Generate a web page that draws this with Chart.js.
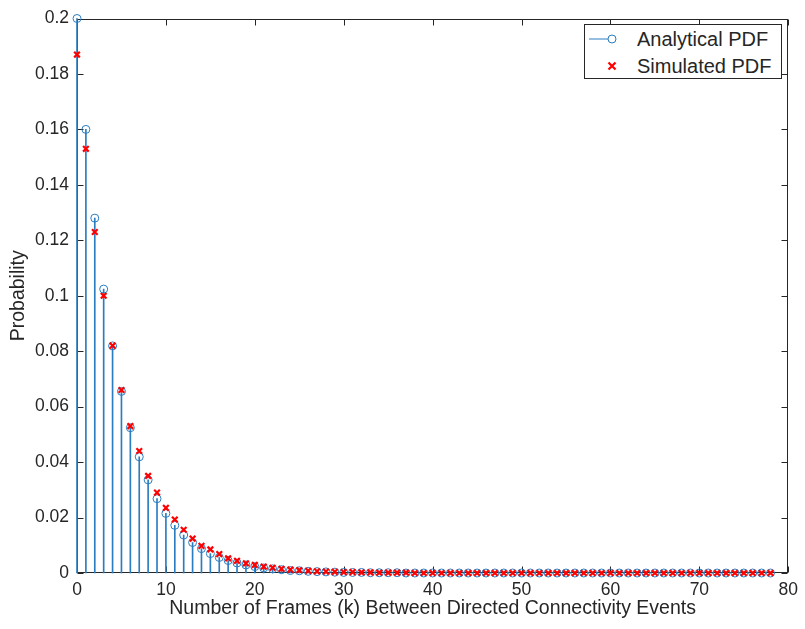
<!DOCTYPE html>
<html>
<head>
<meta charset="utf-8">
<script src="https://cdn.jsdelivr.net/npm/chart.js@4.4.1/dist/chart.umd.min.js"></script>
<style>
    body { margin: 0; background: #ffffff; }
    #wrap { position: relative; width: 805px; height: 629px; }
    #legend {
        position: absolute; left: 584px; top: 24px; width: 198px; height: 55px;
        box-sizing: border-box; border: 1px solid #262626; background: #ffffff;
        font-family: 'Liberation Sans', Arial, sans-serif; font-size: 20px; color: #262626;
    }
    #legend .row { position: absolute; left: 0; width: 100%; height: 24px; line-height: 24px; }
    #legend svg { position: absolute; left: 0; top: 0; }
    #legend span { position: absolute; left: 52px; top: 0; white-space: nowrap; }
</style>
</head>
<body>
<div id="wrap">
    <canvas id="stemChart" width="805" height="629"></canvas>
    <div id="legend">
        <div class="row" style="top:2px">
            <svg width="50" height="24"><line x1="4" y1="12" x2="23" y2="12" stroke="#2a7dc0" stroke-width="1"/><circle cx="27" cy="12" r="4" fill="none" stroke="#2a7dc0" stroke-width="1"/></svg>
            <span>Analytical PDF</span>
        </div>
        <div class="row" style="top:29px">
            <svg width="50" height="24"><path d="M23.5 8.5 L30.5 15.5 M30.5 8.5 L23.5 15.5" stroke="#ff0000" stroke-width="2.2"/></svg>
            <span>Simulated PDF</span>
        </div>
    </div>
</div>
<script>
// Stem plot: analytical vs simulated PDF of frames between connectivity events

const frames = [0, 1, 2, 3, 4, 5, 6, 7, 8, 9, 10, 11, 12, 13, 14, 15, 16, 17, 18, 19,
    20, 21, 22, 23, 24, 25, 26, 27, 28, 29, 30, 31, 32, 33, 34, 35, 36, 37, 38, 39,
    40, 41, 42, 43, 44, 45, 46, 47, 48, 49, 50, 51, 52, 53, 54, 55, 56, 57, 58, 59,
    60, 61, 62, 63, 64, 65, 66, 67, 68, 69, 70, 71, 72, 73, 74, 75, 76, 77, 78];

const analyticalPdf = [0.2, 0.16, 0.128, 0.1024, 0.0819, 0.0655, 0.0524, 0.0419, 0.0336, 0.0268,
    0.0215, 0.0172, 0.0137, 0.0110, 0.0088, 0.0070, 0.0056, 0.0045, 0.0036, 0.0029,
    0.0023, 0.0018, 0.0015, 0.0012, 0.0009, 0.0008, 0.0006, 0.0005, 0.0004, 0.0003,
    0.0002, 0.0002, 0.0002, 0.0001, 0.0001, 0.0001, 0.0001, 0, 0, 0,
    0, 0, 0, 0, 0, 0, 0, 0, 0, 0,
    0, 0, 0, 0, 0, 0, 0, 0, 0, 0,
    0, 0, 0, 0, 0, 0, 0, 0, 0, 0,
    0, 0, 0, 0, 0, 0, 0, 0, 0];

const simulatedPdf = [0.187, 0.153, 0.123, 0.100, 0.082, 0.066, 0.053, 0.044, 0.035, 0.029,
    0.0235, 0.0193, 0.0156, 0.0124, 0.0098, 0.0085, 0.0068, 0.0053, 0.0044, 0.0035,
    0.0029, 0.0023, 0.0019, 0.0015, 0.0012, 0.0010, 0.0008, 0.0006, 0.0005, 0.0004,
    0.0003, 0.0003, 0.0002, 0.0002, 0.0001, 0.0001, 0.0001, 0.0001, 0, 0,
    0, 0, 0, 0, 0, 0, 0, 0, 0, 0,
    0, 0, 0, 0, 0, 0, 0, 0, 0, 0,
    0, 0, 0, 0, 0, 0, 0, 0, 0, 0,
    0, 0, 0, 0, 0, 0, 0, 0, 0];

const xTicks = [0, 10, 20, 30, 40, 50, 60, 70, 80];
const yTicks = [0, 0.02, 0.04, 0.06, 0.08, 0.1, 0.12, 0.14, 0.16, 0.18, 0.2];

const AXIS_COLOR = '#262626';
const STEM_COLOR = '#2a7dc0';
const FONT = "'Liberation Sans', Arial, sans-serif";

// MATLAB-style box with inward ticks on all four sides (drawn under the stems)
const boxTicks = {
    id: 'boxTicks',
    beforeDatasetsDraw(chart) {
        const { ctx, chartArea: a, scales } = chart;
        const len = 6;
        ctx.save();
        ctx.strokeStyle = AXIS_COLOR;
        ctx.lineWidth = 1;
        const L = Math.round(a.left) + 0.5, R = Math.round(a.right) - 0.5;
        const T = Math.round(a.top) + 0.5, B = Math.round(a.bottom) - 0.5;
        ctx.strokeRect(L, T, R - L, B - T);
        ctx.beginPath();
        xTicks.forEach(v => {
            const px = Math.round(scales.x.getPixelForValue(v)) + 0.5;
            ctx.moveTo(px, B); ctx.lineTo(px, B - len);
            ctx.moveTo(px, T); ctx.lineTo(px, T + len);
        });
        yTicks.forEach(v => {
            const py = Math.round(scales.y.getPixelForValue(v)) + 0.5;
            ctx.moveTo(L, py); ctx.lineTo(L + len, py);
            ctx.moveTo(R, py); ctx.lineTo(R - len, py);
        });
        ctx.stroke();
        ctx.restore();
    }
};

const stemChart = new Chart(document.getElementById('stemChart'), {
    type: 'scatter',
    data: {
        datasets: [
            {
                label: 'Simulated PDF',
                data: frames.map((k, i) => ({ x: k, y: simulatedPdf[i] })),
                pointStyle: 'crossRot',
                pointRadius: 4,
                pointBorderWidth: 2.2,
                borderColor: '#ff0000',
                backgroundColor: '#ff0000',
                clip: false,
                order: 0
            },
            {
                label: 'Analytical PDF',
                data: frames.map((k, i) => ({ x: k, y: analyticalPdf[i] })),
                pointStyle: 'circle',
                pointRadius: 4,
                pointBorderWidth: 1,
                borderColor: STEM_COLOR,
                backgroundColor: 'rgba(0,0,0,0)',
                clip: false,
                order: 1
            },
            {
                type: 'bar',
                label: 'stems',
                data: frames.map((k, i) => ({ x: k, y: analyticalPdf[i] })),
                backgroundColor: STEM_COLOR,
                barThickness: 1,
                clip: false,
                order: 2
            }
        ]
    },
    options: {
        responsive: false,
        animation: false,
        layout: { padding: { top: 14, right: 13, left: 0, bottom: 0 } },
        plugins: {
            legend: { display: false },
            tooltip: { enabled: false }
        },
        scales: {
            x: {
                type: 'linear',
                min: 0,
                max: 80,
                offset: false,
                afterBuildTicks: scale => { scale.ticks = xTicks.map(v => ({ value: v })); },
                afterFit: scale => { scale.height = 56; },
                grid: { display: false, drawTicks: false },
                border: { display: false },
                ticks: { color: AXIS_COLOR, padding: 7, maxRotation: 0, font: { family: FONT, size: 17.5 } },
                title: {
                    display: true,
                    text: 'Number of Frames (k) Between Directed Connectivity Events',
                    color: AXIS_COLOR,
                    font: { family: FONT, size: 19.5 },
                    padding: { top: 0, bottom: 9 }
                }
            },
            y: {
                type: 'linear',
                min: 0,
                max: 0.2,
                afterBuildTicks: scale => { scale.ticks = yTicks.map(v => ({ value: v })); },
                afterFit: scale => { scale.width = 77; },
                grid: { display: false, drawTicks: false },
                border: { display: false },
                ticks: {
                    color: AXIS_COLOR, padding: 8, font: { family: FONT, size: 17.5 },
                    callback: value => String(Number(value.toFixed(2)))
                },
                title: {
                    display: true,
                    text: 'Probability',
                    color: AXIS_COLOR,
                    font: { family: FONT, size: 19.5 },
                    padding: { top: 7, bottom: 0 }
                }
            }
        }
    },
    plugins: [boxTicks]
});
</script>
</body>
</html>
